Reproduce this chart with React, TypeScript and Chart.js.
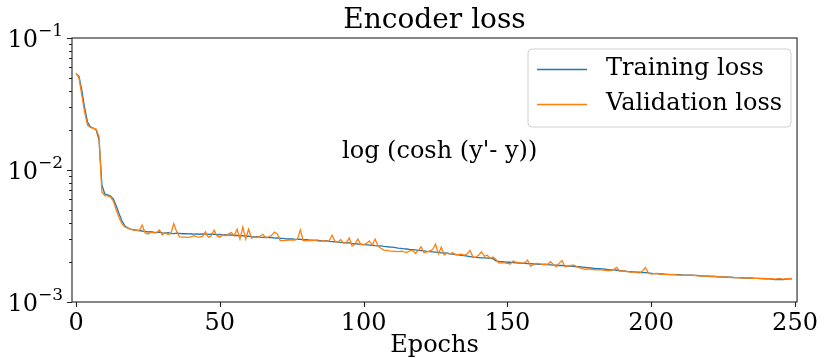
import React, { useEffect, useRef } from "react";
import { Chart, registerables } from "chart.js";

Chart.register(...registerables);

const chartTitle = "Encoder loss";
const xAxisTitle = "Epochs";
const annotationText = "log (cosh (y'- y))";
const seriesNames = ["Training loss", "Validation loss"];
const seriesColors = ["#1f77b4", "#ff7f0e"];
const xTickValues = [0, 50, 100, 150, 200, 250];
const yMajorValues = [0.001, 0.01, 0.1];
const yTickBase = "10";
const yTickExponents = ["\u22123", "\u22122", "\u22121"];

const trainingLoss = [
  0.0534, 0.0515, 0.0404, 0.0295, 0.0231, 0.0212, 0.0208, 0.0201, 0.0169, 0.00769,
  0.00658, 0.00647, 0.00636, 0.00603, 0.00533, 0.00464, 0.00411, 0.00377, 0.00364, 0.00357,
  0.00353, 0.0035, 0.00348, 0.00345, 0.00343, 0.0034, 0.00341, 0.00338, 0.00336, 0.00339,
  0.00334, 0.00332, 0.00335, 0.00331, 0.0033, 0.00332, 0.00331, 0.00329, 0.0033, 0.00328,
  0.00329, 0.00327, 0.00328, 0.00326, 0.00328, 0.00327, 0.00325, 0.00327, 0.00326, 0.00324,
  0.00325, 0.00323, 0.00324, 0.00321, 0.00322, 0.00319, 0.0032, 0.00317, 0.00318, 0.00315,
  0.00316, 0.00313, 0.00311, 0.00312, 0.0031, 0.00309, 0.0031, 0.00307, 0.00308, 0.00305,
  0.00306, 0.00304, 0.00303, 0.00301, 0.003, 0.00301, 0.00299, 0.00298, 0.00299, 0.00296,
  0.00297, 0.00295, 0.00294, 0.00293, 0.00294, 0.00291, 0.0029, 0.00291, 0.00288, 0.00287,
  0.00286, 0.00285, 0.00283, 0.00282, 0.00281, 0.0028, 0.00278, 0.00277, 0.00275, 0.00274,
  0.00272, 0.00271, 0.0027, 0.00269, 0.00267, 0.00266, 0.00266, 0.00264, 0.00263, 0.00261,
  0.0026, 0.00258, 0.00256, 0.00255, 0.00253, 0.00252, 0.0025, 0.00249, 0.00248, 0.00246,
  0.00245, 0.00244, 0.00242, 0.00241, 0.0024, 0.00239, 0.00238, 0.00236, 0.00235, 0.00234,
  0.00232, 0.00231, 0.00229, 0.00228, 0.00226, 0.00225, 0.00223, 0.00221, 0.00219, 0.00218,
  0.00217, 0.00216, 0.00216, 0.00215, 0.00214, 0.00213, 0.00205, 0.00203, 0.00202, 0.00201,
  0.002, 0.002, 0.00199, 0.00198, 0.00197, 0.00196, 0.00197, 0.00195, 0.00195, 0.00194,
  0.00194, 0.00193, 0.00193, 0.00192, 0.00192, 0.00191, 0.0019, 0.0019, 0.00189, 0.00189,
  0.00188, 0.00187, 0.00187, 0.00186, 0.00185, 0.00185, 0.00184, 0.00183, 0.00182, 0.00181,
  0.0018, 0.00179, 0.00179, 0.00178, 0.00177, 0.00176, 0.00175, 0.00175, 0.00174, 0.00173,
  0.00172, 0.00171, 0.0017, 0.0017, 0.00169, 0.00168, 0.00168, 0.00167, 0.00167, 0.00166,
  0.00165, 0.00164, 0.00164, 0.00163, 0.00163, 0.00162, 0.00162, 0.00161, 0.00161, 0.00161,
  0.00161, 0.0016, 0.0016, 0.0016, 0.0016, 0.00159, 0.00159, 0.00158, 0.00158, 0.00157,
  0.00157, 0.00156, 0.00156, 0.00155, 0.00155, 0.00155, 0.00154, 0.00154, 0.00154, 0.00153,
  0.00153, 0.00153, 0.00152, 0.00152, 0.00152, 0.00152, 0.00151, 0.00151, 0.00151, 0.0015,
  0.0015, 0.0015, 0.00149, 0.00148, 0.00148, 0.00148, 0.00148, 0.00149, 0.0015, 0.0015,
];

const validationLoss = [
  0.0541, 0.05, 0.037, 0.0275, 0.0219, 0.021, 0.0207, 0.0204, 0.0178, 0.00681,
  0.0064, 0.00636, 0.00624, 0.00582, 0.00498, 0.00433, 0.0039, 0.0037, 0.00362, 0.00355,
  0.0035, 0.00352, 0.00346, 0.00383, 0.00335, 0.00328, 0.00338, 0.00334, 0.00336, 0.00351,
  0.00322, 0.00336, 0.00325, 0.0033, 0.00392, 0.0034, 0.00312, 0.0031, 0.0031, 0.00309,
  0.00312, 0.00318, 0.00311, 0.0031, 0.00314, 0.0034, 0.0031, 0.00316, 0.0035, 0.00318,
  0.0031, 0.00322, 0.00318, 0.00328, 0.00336, 0.00318, 0.00356, 0.003, 0.0037, 0.003,
  0.00356, 0.00305, 0.0031, 0.00308, 0.00316, 0.00325, 0.00305, 0.00312, 0.0032, 0.00338,
  0.00328, 0.00292, 0.00292, 0.00293, 0.00294, 0.00296, 0.00295, 0.003, 0.00352, 0.00292,
  0.00291, 0.00293, 0.00292, 0.00294, 0.0029, 0.00288, 0.00292, 0.00289, 0.0029, 0.0032,
  0.00289, 0.00284, 0.00297, 0.0028, 0.00282, 0.00305, 0.00266, 0.00275, 0.003, 0.00272,
  0.00272, 0.00278, 0.0029, 0.0027, 0.003, 0.00265, 0.00255, 0.00247, 0.00246, 0.00244,
  0.00243, 0.00242, 0.00241, 0.00243, 0.0024, 0.00238, 0.00244, 0.00246, 0.00234, 0.00245,
  0.00262, 0.00236, 0.0024, 0.00244, 0.0025, 0.00274, 0.00232, 0.0026, 0.00228, 0.00234,
  0.00232, 0.00236, 0.00228, 0.00229, 0.0023, 0.00226, 0.00232, 0.00246, 0.0022, 0.00218,
  0.00226, 0.0024, 0.00222, 0.00226, 0.00214, 0.00219, 0.0021, 0.00197, 0.00199, 0.00198,
  0.00196, 0.00194, 0.00204, 0.002, 0.00199, 0.00197, 0.00198, 0.00208, 0.00187, 0.00192,
  0.00196, 0.00195, 0.00193, 0.00194, 0.00193, 0.00202, 0.00192, 0.00185, 0.00197, 0.00206,
  0.00185, 0.00188, 0.00189, 0.0019, 0.00186, 0.00182, 0.00179, 0.00177, 0.00178, 0.00177,
  0.00176, 0.00175, 0.00176, 0.00175, 0.00174, 0.00173, 0.00174, 0.00176, 0.00183, 0.00171,
  0.00172, 0.00171, 0.0017, 0.00168, 0.00169, 0.00167, 0.00166, 0.00172, 0.00183, 0.00166,
  0.00163, 0.00164, 0.00165, 0.00163, 0.00162, 0.00162, 0.00161, 0.00161, 0.00162, 0.0016,
  0.0016, 0.0016, 0.00159, 0.00159, 0.0016, 0.00159, 0.00158, 0.00158, 0.00157, 0.00157,
  0.00157, 0.00156, 0.00157, 0.00155, 0.00155, 0.00154, 0.00155, 0.00154, 0.00153, 0.00153,
  0.00153, 0.00152, 0.00153, 0.00152, 0.00152, 0.00151, 0.00151, 0.00151, 0.0015, 0.00151,
  0.0015, 0.0015, 0.0015, 0.00149, 0.0015, 0.0015, 0.00149, 0.0015, 0.0015, 0.00151,
];

const epochs = trainingLoss.map((_, i) => i);

const FONT = "'DejaVu Serif', serif";
const TEXT_SIZE = 24;

const decorPlugin = {
  id: "decor",
  afterDraw(chart: any) {
    const ctx = chart.ctx;
    const a = chart.chartArea;
    const xs = chart.scales.x;
    const ys = chart.scales.y;
    ctx.save();
    // frame
    ctx.strokeStyle = "#222";
    ctx.lineWidth = 1.1;
    ctx.strokeRect(a.left, a.top, a.right - a.left, a.bottom - a.top);
    // x ticks
    ctx.beginPath();
    xTickValues.forEach((v) => {
      const px = Math.round(xs.getPixelForValue(v)) + 0.5;
      ctx.moveTo(px, a.bottom);
      ctx.lineTo(px, a.bottom + 5);
    });
    // y ticks (major + minor)
    for (let e = -3; e <= -1; e++) {
      for (let m = 1; m <= 9; m++) {
        const v = m * Math.pow(10, e);
        if (v > 0.1 + 1e-12) break;
        const py = Math.round(ys.getPixelForValue(v)) + 0.5;
        const len = m === 1 ? 5 : 3;
        ctx.moveTo(a.left, py);
        ctx.lineTo(a.left - len, py);
      }
    }
    ctx.stroke();

    // y tick labels, mathtext style 10^{-n}
    ctx.fillStyle = "#000";
    yMajorValues.forEach((v, i) => {
      const py = ys.getPixelForValue(v);
      const right = a.left - 9;
      ctx.font = `17px ${FONT}`;
      const ew = ctx.measureText(yTickExponents[i]).width;
      ctx.font = `${TEXT_SIZE}px ${FONT}`;
      const bw = ctx.measureText(yTickBase).width;
      ctx.textAlign = "left";
      ctx.textBaseline = "alphabetic";
      const baseX = right - ew - bw;
      const baseline = py + 9;
      ctx.fillText(yTickBase, baseX, baseline);
      ctx.font = `17px ${FONT}`;
      ctx.fillText(yTickExponents[i], baseX + bw, baseline - 11);
    });

    // annotation
    ctx.fillStyle = "#000";
    ctx.font = `${TEXT_SIZE}px ${FONT}`;
    ctx.textAlign = "left";
    ctx.textBaseline = "middle";
    ctx.fillText(annotationText, 342, 152);

    // legend
    const bx = 528, by = 49, bw = 263, bh = 78, r = 4;
    ctx.beginPath();
    ctx.moveTo(bx + r, by);
    ctx.lineTo(bx + bw - r, by);
    ctx.arcTo(bx + bw, by, bx + bw, by + r, r);
    ctx.lineTo(bx + bw, by + bh - r);
    ctx.arcTo(bx + bw, by + bh, bx + bw - r, by + bh, r);
    ctx.lineTo(bx + r, by + bh);
    ctx.arcTo(bx, by + bh, bx, by + bh - r, r);
    ctx.lineTo(bx, by + r);
    ctx.arcTo(bx, by, bx + r, by, r);
    ctx.closePath();
    ctx.fillStyle = "rgba(255,255,255,0.8)";
    ctx.fill();
    ctx.strokeStyle = "#d0d0d0";
    ctx.lineWidth = 1;
    ctx.stroke();
    const rows = [69, 104];
    seriesNames.forEach((name, i) => {
      ctx.strokeStyle = seriesColors[i];
      ctx.lineWidth = 1.3;
      ctx.beginPath();
      ctx.moveTo(537, rows[i] + 0.5);
      ctx.lineTo(587, rows[i] + 0.5);
      ctx.stroke();
      ctx.fillStyle = "#000";
      ctx.fillText(name, 606, rows[i]);
    });
    ctx.restore();
  },
};

export default function App() {
  const ref = useRef<HTMLCanvasElement | null>(null);
  useEffect(() => {
    if (!ref.current) return;
    const chart = new Chart(ref.current, {
      type: "line",
      data: {
        datasets: [
          {
            label: seriesNames[0],
            data: epochs.map((e, i) => ({ x: e, y: trainingLoss[i] })),
            borderColor: seriesColors[0],
            backgroundColor: seriesColors[0],
            borderWidth: 1.3,
            pointRadius: 0,
            tension: 0,
            order: 1,
          },
          {
            label: seriesNames[1],
            data: epochs.map((e, i) => ({ x: e, y: validationLoss[i] })),
            borderColor: seriesColors[1],
            backgroundColor: seriesColors[1],
            borderWidth: 1.3,
            pointRadius: 0,
            tension: 0,
            order: 0,
          },
        ],
      },
      options: {
        responsive: false,
        animation: false,
        devicePixelRatio: 1,
        layout: { padding: { top: 0, right: 24, bottom: 0, left: 0 } },
        plugins: {
          legend: { display: false },
          tooltip: { enabled: false },
          title: {
            display: true,
            fullSize: false,
            text: chartTitle,
            color: "#000",
            font: { family: FONT, size: 28, weight: "normal", lineHeight: 1.2 },
            padding: { top: 4, bottom: 0.4 },
          },
        },
        scales: {
          x: {
            type: "linear",
            min: -1.4,
            max: 250.7,
            grid: { display: false, drawTicks: false },
            border: { display: false },
            afterFit: (s: any) => { s.height = 56; },
            afterBuildTicks: (s: any) => { s.ticks = xTickValues.map((v) => ({ value: v })); },
            ticks: {
              autoSkip: false,
              maxRotation: 0,
              padding: 7,
              color: "#000",
              font: { family: FONT, size: TEXT_SIZE },
              callback: (v: any) => String(v),
            },
            title: {
              display: true,
              text: xAxisTitle,
              color: "#000",
              font: { family: FONT, size: TEXT_SIZE, lineHeight: 1.0 },
              padding: { top: 0, bottom: 0 },
            },
          },
          y: {
            type: "logarithmic",
            min: 0.001,
            max: 0.1,
            grid: { display: false, drawTicks: false },
            border: { display: false },
            afterFit: (s: any) => { s.width = 72; },
            afterBuildTicks: (s: any) => { s.ticks = yMajorValues.map((v) => ({ value: v })); },
            ticks: { display: false },
          },
        },
      },
      plugins: [decorPlugin],
    } as any);
    return () => chart.destroy();
  }, []);
  return (
    <div style={{ position: "absolute", left: 0, top: 0, width: 825, height: 358, background: "#fff" }}>
      <canvas ref={ref} width={825} height={358} style={{ display: "block" }} />
    </div>
  );
}
